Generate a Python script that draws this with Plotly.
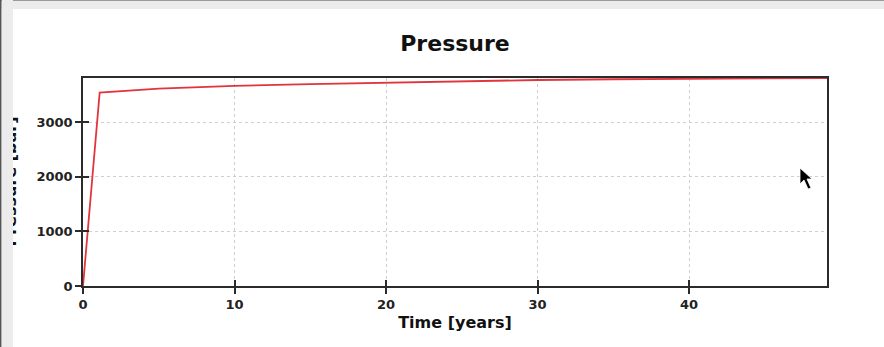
import plotly.graph_objects as go

# Reservoir pressure history
time_years = [0, 1.1, 5, 10, 15, 20, 25, 30, 35, 40, 45, 49.1]
pressure = [0, 3540, 3610, 3662, 3692, 3718, 3745, 3768, 3782, 3792, 3800, 3805]

x_ticks = [0, 10, 20, 30, 40]
y_ticks = [0, 1000, 2000, 3000]

W, H = 884, 347
L, R, T, B = 83, 57, 78, 61
PW, PH = W - L - R, H - T - B


def px(x):
    return (x - L) / PW


def py(y):
    return (H - B - y) / PH


FONT = "DejaVu Sans"
frame = "#2b2b2b"

fig = go.Figure()
fig.add_trace(go.Scatter(
    x=time_years, y=pressure, mode="lines",
    line=dict(color="#e0353d", width=1.8),
    showlegend=False, hoverinfo="skip",
))
# invisible trace on secondary axes so the inward tick marks render
fig.add_trace(go.Scatter(x=[0], y=[0], xaxis="x2", yaxis="y2",
                         mode="markers", marker=dict(opacity=0),
                         showlegend=False, hoverinfo="skip"))

axis_common = dict(
    showline=True, linecolor=frame, linewidth=1.5, mirror=True,
    ticks="outside", ticklen=6, tickwidth=1.5, tickcolor=frame,
    showgrid=True, gridcolor="#cfcfcf", griddash="dot", gridwidth=1,
    zeroline=False,
    tickfont=dict(family=FONT, size=13, color="#222222", weight="bold"),
)

fig.update_layout(
    width=W, height=H,
    margin=dict(l=L, r=R, t=T, b=B, pad=0),
    paper_bgcolor="white", plot_bgcolor="white",
    title=dict(text="<b>Pressure</b>", x=px(455), xanchor="center",
               y=1 - 43 / H, yanchor="middle", xref="paper",
               font=dict(family=FONT, size=22, color="#111111")),
    xaxis=dict(range=[0, 49.1], tickvals=x_ticks,
               title=dict(text="<b>Time [years]</b>", standoff=5,
                          font=dict(family=FONT, size=16, color="#111111")),
               **axis_common),
    yaxis=dict(range=[0, 3805], tickvals=y_ticks, **axis_common),
    xaxis2=dict(overlaying="x", range=[0, 49.1], tickvals=x_ticks,
                ticks="inside", ticklen=6, tickwidth=1.5, tickcolor=frame,
                showticklabels=False, showgrid=False, showline=False,
                zeroline=False, anchor="y2", side="bottom"),
    yaxis2=dict(overlaying="y", range=[0, 3805], tickvals=y_ticks,
                ticks="inside", ticklen=6, tickwidth=1.5, tickcolor=frame,
                showticklabels=False, showgrid=False, showline=False,
                zeroline=False, anchor="x2", side="left"),
)

# window chrome: top bar and left strip
fig.add_shape(type="rect", xref="paper", yref="paper",
              x0=px(0), x1=px(W), y0=py(9), y1=py(-2),
              fillcolor="#ececec", line=dict(width=0), layer="above")
fig.add_shape(type="line", xref="paper", yref="paper",
              x0=px(0), x1=px(W), y0=py(0.5), y1=py(0.5),
              line=dict(color="#9a9a9a", width=1), layer="above")

# vertical axis title, partly hidden behind the left strip
fig.add_annotation(text="<b>Pressure [bar]</b>", textangle=-90,
                   xref="paper", yref="paper", x=px(21), xanchor="right",
                   y=py(182), yanchor="middle", showarrow=False,
                   font=dict(family=FONT, size=16, color="#111111"))
fig.add_annotation(text=" ", xref="paper", yref="paper",
                   x=px(1.5), xanchor="left", y=py(H / 2 + 5), yanchor="middle",
                   width=11, height=H + 10, bgcolor="#ececec",
                   borderpad=0, borderwidth=0, showarrow=False)
fig.add_shape(type="line", xref="paper", yref="paper",
              x0=px(0.7), x1=px(0.7), y0=py(-2), y1=py(H + 2),
              line=dict(color="#555555", width=1.5), layer="above")

# mouse pointer
pts = [(800, 168), (800, 184), (804, 180), (808, 189), (811, 188),
       (807, 179), (812, 179)]
path = "M " + " L ".join(f"{px(a)},{py(b)}" for a, b in pts) + " Z"
fig.add_shape(type="path", xref="paper", yref="paper", path=path,
              fillcolor="black", line=dict(color="white", width=0.8),
              layer="above")

fig.write_html("out.html")
